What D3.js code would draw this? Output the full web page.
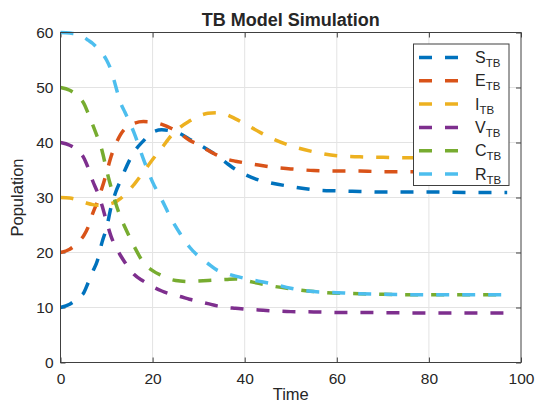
<!DOCTYPE html>
<html>
<head>
<meta charset="utf-8">
<script src="https://cdn.jsdelivr.net/npm/d3@7/dist/d3.min.js"></script>
<style>
  body { margin: 0; background: #fff; }
  text { font-family: "Liberation Sans", Arial, Helvetica, sans-serif; fill: #262626; }
</style>
</head>
<body>
<div id="chart"></div>
<script>
// dados
const time = [0, 2, 4, 5, 6, 7, 8, 9, 10, 11, 12, 13, 14, 16, 18, 20, 22, 24, 26, 28, 30, 32, 34, 36, 38, 40, 43, 46, 50, 55, 60, 65, 70, 80, 90, 97];
const S_TB = [10, 10.6, 11.9, 12.6, 14.5, 16.5, 18.5, 21.8, 24.5, 28.3, 31, 33, 35, 38.3, 40.3, 41.9, 42.3, 42.1, 41.6, 40.6, 39.7, 38.7, 37.6, 36.3, 35.1, 34.2, 33.2, 32.6, 32, 31.4, 31.2, 31.1, 31, 31, 30.9, 30.9];
const E_TB = [20, 20.6, 22, 23, 24.6, 27.1, 29.2, 31.7, 34.5, 37.5, 39.7, 41.4, 42.5, 43.5, 43.8, 43.7, 43.3, 42.6, 41.6, 40.4, 39.6, 38.6, 37.7, 37, 36.6, 36.3, 35.9, 35.5, 35.2, 34.9, 34.8, 34.8, 34.7, 34.7, 34.7, 34.7];
const I_TB = [30, 29.9, 29.5, 29.2, 28.9, 28.7, 28.6, 28.6, 28.7, 28.9, 29.2, 29.8, 30.5, 32.4, 34.6, 36.9, 39, 41.2, 42.8, 43.9, 44.8, 45.3, 45.4, 45.1, 44.3, 43.4, 42, 40.7, 39.4, 38.3, 37.6, 37.4, 37.3, 37.2, 37.2, 37.2];
const V_TB = [40, 39.5, 38.3, 37.3, 35.4, 33, 31, 28.6, 25.6, 22.9, 21, 19.5, 18.2, 16, 14.8, 13.8, 13, 12.4, 12, 11.5, 11.1, 10.7, 10.3, 10, 9.85, 9.7, 9.55, 9.4, 9.25, 9.2, 9.1, 9.1, 9.05, 9, 9, 9];
const C_TB = [50, 49.5, 48.2, 47.2, 45.3, 43.2, 41, 38.6, 35, 31.8, 28.9, 26.5, 24.6, 21.1, 18.2, 16.7, 15.8, 15.1, 14.8, 14.7, 14.8, 14.9, 15, 15.1, 15.2, 14.9, 14.4, 13.9, 13.4, 12.9, 12.6, 12.5, 12.4, 12.3, 12.3, 12.3];
const R_TB = [60, 59.9, 59.6, 59.2, 58.6, 58, 57.2, 56.3, 55, 53.1, 50.2, 47.3, 45.5, 41.7, 37, 32.8, 29.6, 26.2, 23.4, 21, 19.3, 18, 16.8, 16.2, 15.7, 15.3, 14.8, 14.3, 13.5, 12.9, 12.7, 12.5, 12.4, 12.3, 12.3, 12.3];

const seriesNames = ["S", "E", "I", "V", "C", "R"];
const seriesValues = [S_TB, E_TB, I_TB, V_TB, C_TB, R_TB];
const seriesColors = ["#0072BD", "#D95319", "#EDB120", "#7E2F8E", "#77AC30", "#4DBEEE"];
const xTicks = [0, 20, 40, 60, 80, 100];
const yTicks = [0, 10, 20, 30, 40, 50, 60];

// dimensões
const width = 538;
const height = 405;
const margin = { top: 32.5, right: 17, bottom: 42.5, left: 60.5 };
const x0 = margin.left, x1 = width - margin.right;
const y0 = height - margin.bottom, y1 = margin.top;

const x = d3.scaleLinear().domain([0, 100]).range([x0, x1]);
const y = d3.scaleLinear().domain([0, 60]).range([y0, y1]);

const svg = d3.select("#chart")
  .append("svg")
  .attr("width", width)
  .attr("height", height);

// grade
const grid = svg.append("g").attr("stroke", "#e3e3e3").attr("stroke-width", 1);
grid.selectAll(".gx").data(xTicks.slice(1, -1)).enter().append("line")
  .attr("x1", d => x(d)).attr("x2", d => x(d))
  .attr("y1", y0).attr("y2", y1);
grid.selectAll(".gy").data(yTicks.slice(1, -1)).enter().append("line")
  .attr("x1", x0).attr("x2", x1)
  .attr("y1", d => y(d)).attr("y2", d => y(d));

// eixos com ticks para dentro
function styleAxis(g, labels) {
  g.select(".domain").remove();
  g.selectAll(".tick line").attr("stroke", "#404040");
  g.selectAll(".tick text").style("font-size", labels ? "15.5px" : "0px").attr("fill", "#262626");
}
svg.append("g").attr("transform", `translate(0,${y0})`)
  .call(d3.axisBottom(x).tickValues(xTicks).tickSize(-5).tickPadding(10))
  .call(g => styleAxis(g, true));
svg.append("g").attr("transform", `translate(0,${y1})`)
  .call(d3.axisTop(x).tickValues(xTicks).tickSize(-5).tickFormat(""))
  .call(g => styleAxis(g, false));
svg.append("g").attr("transform", `translate(${x0},0)`)
  .call(d3.axisLeft(y).tickValues(yTicks).tickSize(-5).tickPadding(7))
  .call(g => styleAxis(g, true));
svg.append("g").attr("transform", `translate(${x1},0)`)
  .call(d3.axisRight(y).tickValues(yTicks).tickSize(-5).tickFormat(""))
  .call(g => styleAxis(g, false));

// linhas
const line = d3.line()
  .x((d, i) => x(time[i]))
  .y(d => y(d))
  .curve(d3.curveMonotoneX);

svg.append("g").selectAll("path")
  .data(seriesValues)
  .enter()
  .append("path")
  .attr("d", line)
  .attr("fill", "none")
  .attr("stroke", (d, i) => seriesColors[i])
  .attr("stroke-width", 3.5)
  .attr("stroke-dasharray", "13,13");

// caixa
svg.append("rect")
  .attr("x", x0).attr("y", y1)
  .attr("width", x1 - x0).attr("height", y0 - y1)
  .attr("fill", "none")
  .attr("stroke", "#404040")
  .attr("stroke-width", 1);

// título e rótulos
svg.append("text")
  .attr("x", (x0 + x1) / 2).attr("y", 26)
  .attr("text-anchor", "middle")
  .style("font-size", "18px")
  .style("font-weight", "bold")
  .attr("fill", "#000")
  .text("TB Model Simulation");

svg.append("text")
  .attr("x", (x0 + x1) / 2).attr("y", 400)
  .attr("text-anchor", "middle")
  .style("font-size", "16.5px")
  .text("Time");

svg.append("text")
  .attr("transform", `translate(23,${(y0 + y1) / 2}) rotate(-90)`)
  .attr("text-anchor", "middle")
  .style("font-size", "16.5px")
  .text("Population");

// legenda
const legend = svg.append("g");
legend.append("rect")
  .attr("x", 413.5).attr("y", 44)
  .attr("width", 95.5).attr("height", 141.5)
  .attr("fill", "#fff")
  .attr("stroke", "#404040")
  .attr("stroke-width", 1);

const item = legend.selectAll(".item")
  .data(seriesNames)
  .enter()
  .append("g")
  .attr("transform", (d, i) => `translate(0,${57.5 + i * 23.3})`);

item.append("line")
  .attr("x1", 419).attr("x2", 459)
  .attr("y1", 0).attr("y2", 0)
  .attr("stroke", (d, i) => seriesColors[i])
  .attr("stroke-width", 3.5)
  .attr("stroke-dasharray", "13,13");

const label = item.append("text")
  .attr("x", 475).attr("y", 5.5)
  .style("font-size", "16px");
label.append("tspan").text(d => d);
label.append("tspan")
  .attr("dy", 4)
  .style("font-size", "11.5px")
  .text("TB");
</script>
</body>
</html>
